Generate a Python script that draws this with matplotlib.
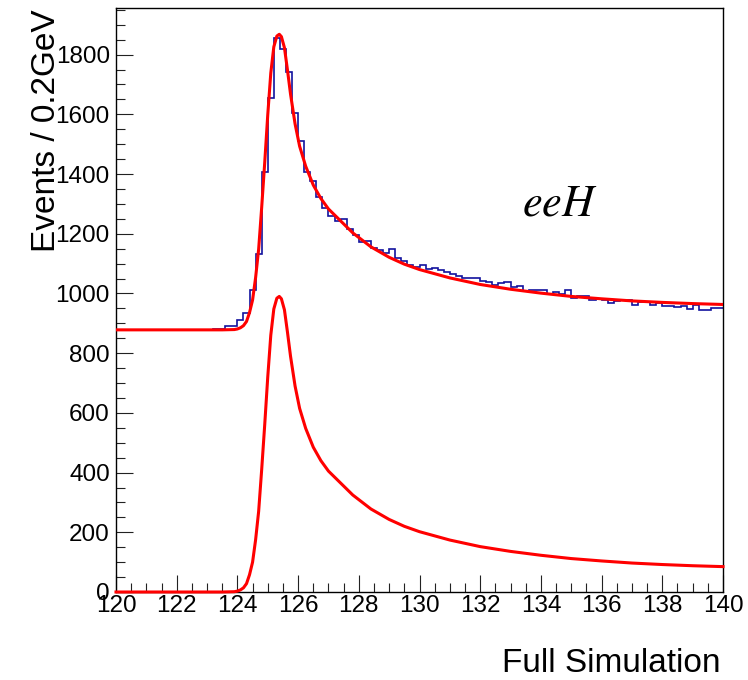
import numpy as np
import matplotlib
matplotlib.use("Agg")
import matplotlib.pyplot as plt
from matplotlib.ticker import MultipleLocator

# ---------------- data ----------------
bin_lo, bin_hi, bin_w = 120.0, 140.0, 0.2
hist_counts = [
    # 120.0 - 121.8
    878, 878, 878, 878, 878, 878, 878, 878, 878, 878,
    # 122.0 - 123.8
    878, 878, 878, 878, 878, 878, 882, 882, 890, 890,
    # 124.0 - 125.8
    910, 936, 1012, 1133, 1408, 1653, 1857, 1820, 1742, 1603,
    # 126.0 - 127.8
    1512, 1408, 1378, 1322, 1287, 1258, 1241, 1249, 1216, 1197,
    # 128.0 - 129.8
    1172, 1176, 1151, 1144, 1135, 1150, 1118, 1110, 1096, 1088,
    # 130.0 - 131.8
    1094, 1083, 1086, 1080, 1071, 1066, 1058, 1052, 1052, 1052,
    # 132.0 - 133.8
    1041, 1038, 1029, 1036, 1039, 1021, 1024, 1008, 1013, 1010,
    # 134.0 - 135.8
    1013, 999, 1004, 997, 1013, 984, 993, 993, 977, 981,
    # 136.0 - 137.8
    978, 969, 973, 977, 977, 961, 971, 971, 961, 969,
    # 138.0 - 139.8
    958, 957, 954, 958, 947, 960, 943, 943, 950, 951,
]

background = 878.0

signal_x = [120.0, 123.5, 123.9, 124.0, 124.1, 124.2, 124.3, 124.4, 124.5, 124.6,
            124.7, 124.8, 124.9, 125.0, 125.1, 125.2, 125.3, 125.38, 125.45, 125.55,
            125.65, 125.75, 125.9, 126.05, 126.25, 126.5, 126.75, 127.0, 127.3, 127.8,
            128.4, 129.0, 129.5, 130.0, 131.0, 132.0, 133.0, 134.0, 135.0, 136.0,
            137.0, 138.0, 139.0, 140.0]
signal_y = [0, 0, 1, 3, 7, 14, 28, 58, 100, 175,
            270, 410, 560, 720, 860, 948, 984, 990, 982, 945,
            870, 790, 690, 615, 548, 485, 440, 405, 375, 325,
            278, 243, 220, 202, 174, 152, 136, 123, 112, 104,
            97, 92, 88, 85]

x_label = "Full Simulation"
y_label = "Events / 0.2GeV"
tag = r"$eeH$"

# ---------------- figure ----------------
W, H = 748, 680
fig = plt.figure(figsize=(W / 100, H / 100), dpi=100)
ax = fig.add_axes([116 / W, 1 - 592 / H, 607 / W, 584 / H])

edges = np.arange(len(hist_counts) + 1) * bin_w + bin_lo
ax.stairs(hist_counts, edges, baseline=None, color="#12129e", lw=1.2, zorder=2)

sx = np.array(signal_x)
sy = np.array(signal_y, dtype=float)
ax.plot(sx, sy + background, color="#ff0000", lw=2.2, zorder=3,
        solid_joinstyle="round")
ax.plot(sx, sy, color="#ff0000", lw=2.2, zorder=3, clip_on=False,
        solid_joinstyle="round")

ax.set_xlim(bin_lo, bin_hi)
ax.set_ylim(0, 1956)

ax.xaxis.set_major_locator(MultipleLocator(2))
ax.xaxis.set_minor_locator(MultipleLocator(0.5))
ax.yaxis.set_major_locator(MultipleLocator(200))
ax.yaxis.set_minor_locator(MultipleLocator(50))

font = "Liberation Sans"
ax.tick_params(which="both", direction="in", top=False, right=False,
               color="#222222", width=0.8)
ax.tick_params(which="major", length=12.5)
ax.tick_params(which="minor", length=6.5)
ax.tick_params(axis="y", which="major", labelsize=17.5, pad=4.5)
ax.tick_params(axis="x", which="major", labelsize=17.5, pad=2.5)
for lab in ax.get_xticklabels() + ax.get_yticklabels():
    lab.set_fontfamily(font)

for sp in ax.spines.values():
    sp.set_linewidth(1.0)
    sp.set_color("black")

fig.text(720 / W, 1 - 672 / H, x_label, ha="right", va="baseline",
         fontsize=24, fontfamily=font)
fig.text(62 / W, 1 - 9 / H, y_label, ha="right", va="top", rotation=90,
         fontsize=24, fontfamily=font)

plt.rcParams["mathtext.fontset"] = "stix"
fig.text(522 / W, 1 - 216 / H, tag, ha="left", va="baseline", fontsize=32)

fig.savefig("out.png", dpi=100)
